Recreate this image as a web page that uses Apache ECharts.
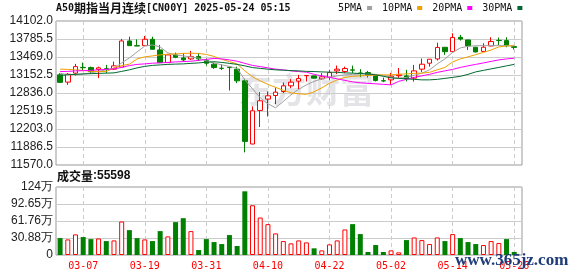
<!DOCTYPE html>
<html><head><meta charset="utf-8">
<script src="https://cdn.jsdelivr.net/npm/echarts@6/dist/echarts.min.js"></script>
<style>html,body{margin:0;padding:0;background:#fff}#c{width:578px;height:276px}</style>
</head><body><div id="c"></div>
<script>
const titleText = 'A50期指当月连续[CN00Y] 2025-05-24 05:15';
const volTitle = '成交量:55598';
const dates = ['03-04','03-05','03-06','03-07','03-10','03-11','03-12','03-13','03-14','03-17','03-18','03-19','03-20','03-21','03-24','03-25','03-26','03-27','03-28','03-31','04-01','04-02','04-03','04-04','04-07','04-08','04-09','04-10','04-11','04-14','04-15','04-16','04-17','04-18','04-21','04-22','04-23','04-24','04-25','04-28','04-29','04-30','05-01','05-02','05-05','05-06','05-07','05-08','05-09','05-12','05-13','05-14','05-15','05-16','05-19','05-20','05-21','05-22','05-23','05-26'];
const opens = [13155,13027,13185,13286,13283,13251,13262,13255,13290,13751,13668,13669,13781,13593,13371,13506,13453,13435,13476,13405,13343,13272,13290,13255,13050,11939,12529,12729,12792,12862,12962,13044,13140,13137,13085,13115,13225,13213,13242,13187,13195,13137,13052,13067,13140,13137,13097,13255,13360,13435,13640,13563,13815,13769,13641,13567,13663,13762,13757,13652];
const closes = [13023,13167,13300,13280,13213,13278,13255,13313,13751,13669,13663,13781,13605,13371,13506,13463,13418,13476,13435,13360,13283,13268,13283,13050,11985,12523,12699,12787,12851,12962,13027,13090,13145,13097,13120,13195,13255,13266,13238,13183,13155,13055,13048,13132,13155,13090,13225,13342,13430,13637,13563,13813,13785,13663,13558,13641,13742,13758,13676,13638];
const lows = [13015,12979,13143,13225,13172,13097,13185,13243,13285,13665,13660,13663,13600,13365,13365,13448,13388,13418,13400,13320,13260,13240,12880,13010,11792,11935,12237,12423,12641,12834,12922,12904,13038,13095,13067,13067,13167,13185,13185,13115,13108,13040,13027,12979,13100,13040,13037,13207,13300,13406,13506,13560,13757,13593,13550,13560,13660,13680,13641,13600];
const highs = [13185,13185,13348,13371,13300,13300,13330,13388,13786,13826,13780,13839,13826,13681,13515,13546,13535,13576,13535,13440,13365,13340,13300,13300,13085,12600,12851,12862,12932,13020,13080,13155,13148,13140,13185,13243,13318,13300,13318,13255,13225,13155,13108,13190,13275,13243,13330,13441,13432,13721,13642,13886,13856,13775,13645,13711,13816,13810,13816,13680];
const ma5 = [13185,13155,13164,13167,13190,13216,13243,13272,13365,13453,13558,13663,13681,13646,13541,13506,13488,13471,13448,13400,13365,13330,13304,13269,13067,12909,12751,12646,12576,12687,12804,12901,12979,13041,13085,13111,13137,13155,13164,13172,13172,13164,13146,13111,13097,13111,13146,13185,13243,13348,13435,13549,13628,13658,13667,13669,13669,13669,13667,13663];
const ma10 = [13255,13251,13243,13234,13216,13213,13213,13278,13318,13343,13435,13471,13488,13506,13518,13523,13532,13535,13532,13514,13479,13427,13388,13348,13225,13120,13050,12988,12936,12883,12839,12822,12813,12857,12927,13006,13067,13111,13129,13137,13146,13150,13155,13155,13167,13172,13181,13185,13199,13243,13286,13383,13435,13471,13511,13549,13593,13646,13663,13669];
const ma20 = [13213,13216,13225,13229,13234,13243,13251,13260,13286,13318,13339,13348,13360,13365,13374,13383,13388,13395,13409,13427,13444,13435,13418,13395,13357,13321,13300,13278,13255,13243,13225,13213,13202,13164,13137,13111,13085,13058,13032,13015,13006,12997,12988,12979,13041,13076,13111,13137,13164,13199,13225,13251,13286,13313,13339,13365,13392,13418,13435,13448];
const ma30 = [13146,13155,13164,13172,13176,13181,13185,13190,13216,13243,13278,13304,13321,13330,13339,13344,13348,13357,13365,13378,13386,13374,13357,13339,13313,13283,13269,13255,13243,13237,13230,13225,13216,13213,13207,13202,13199,13190,13185,13178,13172,13155,13129,13102,13093,13085,13076,13067,13067,13076,13093,13111,13129,13164,13207,13234,13260,13286,13313,13339];
const volumes = [30.7,28.3,37.4,32.6,28.9,30.1,25.3,26.5,60.9,45.2,30.7,28.3,25.3,43.4,33.8,59.7,66.9,43.4,9.0,28.9,23.5,19.9,36.2,16.3,115.7,90.4,68.1,56.1,39.2,25.3,21.1,26.5,22.9,12.1,8.4,19.3,26.5,46.4,56.1,38.0,5.4,18.1,5.4,8.4,4.8,27.1,31.9,27.1,19.9,31.9,25.3,38.0,30.7,23.5,19.9,18.1,25.3,21.7,28.9,5.56];
const volUp = [0,1,1,0,0,1,0,1,1,0,0,1,0,0,1,0,0,1,0,0,0,0,0,0,0,1,1,1,1,1,1,1,1,0,1,1,1,1,0,0,0,0,0,1,1,0,1,1,1,1,0,1,0,0,0,1,1,1,0,0];
const labelIdx = [3,11,19,27,35,43,51,59];
const priceTicks = [11570,11886.5,12203,12519.5,12836,13152.5,13469,13785.5,14102];
const volTicks = [0,30.882,61.764,92.646,123.528];
const volTickLabels = ['0','30.88万','61.76万','92.65万','124万'];
const maNames = ['5PMA','10PMA','20PMA','30PMA'];

const UP = '#ff0000', DOWN = '#008000';
const maColors = ['#a0a0a0','#f0a000','#ff00ff','#006a30'];
const xMin = -0.533, xMax = 60.01;

function richify(s){
  return s.replace(/([\u4e00-\u9fff]+)|([^\u4e00-\u9fff]+)/g, (m,c,a)=> c ? '{c|'+c+'}' : '{a|'+a+'}');
}

const chart = echarts.init(document.getElementById('c'), null, {renderer:'canvas'});
const mas = [ma5, ma10, ma20, ma30];
const xAxisBase = {
  type:'value', min:xMin, max:xMax,
  axisLine:{show:false},
  axisTick:{show:false, customValues:labelIdx},
  splitLine:{show:true, lineStyle:{color:'#cccccc', type:[4,3], width:1}}
};
const option = {
  animation:false,
  backgroundColor:'#fff',
  title:[
    {text: richify(titleText), left:56, top:2, padding:0,
     textStyle:{rich:{a:{fontFamily:'DejaVu Sans Mono', fontSize:10, color:'#111'}, c:{fontFamily:'Noto Sans CJK SC', fontSize:12, color:'#111'}}}},
    {text: richify(volTitle), left:57, top:170, padding:0,
     textStyle:{rich:{a:{fontFamily:'Liberation Sans', fontSize:12, color:'#111'}, c:{fontFamily:'Noto Sans CJK SC', fontSize:12, color:'#111'}}}}
  ],
  legend:{
    data: maNames, left:338, top:3, align:'right', icon:'rect', itemWidth:5, itemHeight:4, itemGap:10,
    selectedMode:false, padding:0,
    textStyle:{fontFamily:'DejaVu Sans Mono', fontSize:10, color:'#111'}
  },
  graphic:{elements:[
    {type:'text', z:-5, left:238, top:73, style:{text:'东方财富', fill:'rgba(200,200,210,0.5)', font:'bold 34px "Noto Sans CJK SC"'}},
    {type:'text', z:100, left:455, top:252, style:{text:'www.365jz.com', fill:'#1f3d7a', font:'bold 17px "Liberation Serif"'}}
  ]},
  grid:[
    {left:56, top:21, width:466, height:144, show:true, borderColor:'#999', borderWidth:1, backgroundColor:'transparent'},
    {left:56, top:187, width:466, height:68, show:true, borderColor:'#999', borderWidth:1, backgroundColor:'transparent'}
  ],
  xAxis:[
    Object.assign({gridIndex:0, axisLabel:{show:false, customValues:labelIdx}}, xAxisBase),
    Object.assign({gridIndex:1, axisLabel:{show:true, customValues:labelIdx, color:UP, fontFamily:'DejaVu Sans Mono', fontSize:10, margin:6,
      formatter:(v)=>dates[Math.round(v)]}}, xAxisBase)
  ],
  yAxis:[
    {gridIndex:0, type:'value', min:priceTicks[0], max:priceTicks[priceTicks.length-1],
     axisLine:{show:false}, axisTick:{show:false, customValues:priceTicks},
     axisLabel:{customValues:priceTicks, formatter:(v)=>v.toFixed(1), color:'#222', fontFamily:'Liberation Sans', fontSize:12, margin:3},
     splitLine:{show:true, lineStyle:{color:'#cccccc', width:1}}},
    {gridIndex:1, type:'value', min:volTicks[0], max:volTicks[volTicks.length-1],
     axisLine:{show:false}, axisTick:{show:false, customValues:volTicks},
     axisLabel:{customValues:volTicks, formatter:(v)=>volTickLabels[Math.round(v/volTicks[1])], color:'#222', fontFamily:'Liberation Sans', fontSize:12, margin:3},
     splitLine:{show:true, lineStyle:{color:'#cccccc', width:1}}}
  ],
  series:[
    {type:'candlestick', xAxisIndex:0, yAxisIndex:0, barWidth:5, z:2,
     encode:{x:0, y:[1,2,3,4]},
     data: dates.map((d,i)=>[i, opens[i], closes[i], lows[i], highs[i]]),
     itemStyle:{color:'#ffffff', color0:DOWN, borderColor:UP, borderColor0:DOWN, borderWidth:1}},
    ...maNames.map((n,k)=>({
      name:n, type:'line', xAxisIndex:0, yAxisIndex:0, symbol:'none', z:3,
      data: mas[k].map((v,i)=>[i, v]),
      lineStyle:{color:maColors[k], width:1}, itemStyle:{color:maColors[k]}
    })),
    {type:'bar', xAxisIndex:1, yAxisIndex:1, barWidth:5,
     data: volumes.map((v,i)=>({value:[i, v], itemStyle: volUp[i] ? {color:'#ffffff', borderColor:UP, borderWidth:1} : {color:DOWN, borderColor:DOWN, borderWidth:0}}))}
  ]
};
chart.setOption(option);
</script></body></html>
